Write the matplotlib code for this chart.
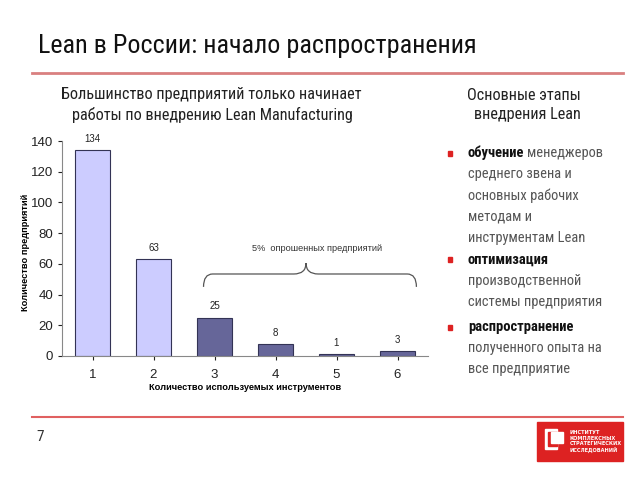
import matplotlib
matplotlib.use("Agg")
import matplotlib.pyplot as plt
from matplotlib import font_manager as fm
from matplotlib.patches import Rectangle, PathPatch
from matplotlib.path import Path

names = {f.name for f in fm.fontManager.ttflist}
NARROW = None
for cand in ["Liberation Sans Narrow", "Arial Narrow", "Roboto Condensed",
             "Fira Sans Condensed", "IBM Plex Sans Condensed", "PT Sans Narrow"]:
    if cand in names:
        NARROW = cand
        break
if NARROW is None:
    NARROW = "DejaVu Sans"
    STRETCH = "condensed"
else:
    STRETCH = "normal"
plt.rcParams['font.family'] = [NARROW, 'DejaVu Sans']
ARIAL = ["Liberation Sans", "DejaVu Sans"]

categories = ["1", "2", "3", "4", "5", "6"]
values = [134, 63, 25, 8, 1, 3]
light_idx = [0, 1]
yticks = [0, 20, 40, 60, 80, 100, 120, 140]

W, H = 640, 480
fig = plt.figure(figsize=(6.4, 4.8), dpi=100)
fig.canvas.draw()
renderer = fig.canvas.get_renderer()

def fx(px): return px / W
def fy(py): return 1 - py / H

def ntext(xp, yp, s, size, **kw):
    return fig.text(fx(xp), fy(yp), s, fontsize=size, fontstretch=STRETCH, **kw)

def fit(t, target):
    w = t.get_window_extent(renderer).width
    t.set_fontsize(t.get_fontsize() * target / w)
    return t.get_fontsize()

# title
t = ntext(38, 46, "Lean в России: начало распространения", 20, va="center", ha="left",
          color="#111111")
fit(t, 437)
fig.add_artist(plt.Line2D([fx(32), fx(623)], [fy(73), fy(73)], color="#d98080", lw=2))
fig.add_artist(plt.Line2D([fx(32), fx(623)], [fy(417), fy(417)], color="#e06060", lw=1.5))

t = ntext(211, 95, "Большинство предприятий только начинает", 12, ha="center", va="center",
          color="#222222")
sz = fit(t, 302)
ntext(212, 115, "работы по внедрению Lean Manufacturing", sz, ha="center", va="center",
      color="#222222")
ntext(524, 95, "Основные этапы", sz, ha="center", va="center", color="#222222")
ntext(527, 115, "внедрения Lean", sz, ha="center", va="center", color="#222222")

# axes
ax = fig.add_axes([fx(62), fy(356), fx(428) - fx(62), fy(141) - fy(356)])
x = list(range(len(categories)))
colors = ["#ccccff" if i in light_idx else "#666699" for i in x]
ax.bar(x, values, width=0.59, color=colors, edgecolor="#333355", linewidth=0.8)
for xi, v in zip(x, values):
    ax.text(xi, v + 4, str(v), ha="center", va="bottom", fontsize=7, color="#222222",
            family=ARIAL)
ax.set_xlim(-0.5, 5.5)
ax.set_ylim(0, 140)
ax.set_yticks(yticks)
ax.set_xticks(x)
ax.set_xticklabels(categories)
ax.tick_params(axis="both", labelsize=9.5, colors="#222222", length=3, width=0.8)
ax.tick_params(axis="x", pad=6)
for s in ["top", "right"]:
    ax.spines[s].set_visible(False)
for s in ["left", "bottom"]:
    ax.spines[s].set_color("#888888")
for lab in ax.get_xticklabels() + ax.get_yticklabels():
    lab.set_family(ARIAL)
ax.set_xlabel("Количество используемых инструментов", fontsize=6.7, fontweight="bold",
              family=ARIAL)
ax.set_ylabel("Количество предприятий", fontsize=6.7, fontweight="bold", family=ARIAL)
ax.xaxis.set_label_coords(0.5, -0.126)
ax.yaxis.set_label_coords(-0.088, 0.48)

# brace
x0, x1, xm = 1.82, 5.31, 3.5
yb, yh, yp = 45, 53.4, 60.5
verts = [(x0, yb), (x0, yh), (x0 + 0.15, yh), (x0 + 0.4, yh),
         (xm - 0.2, yh), (xm, yh), (xm, yp),
         (xm, yh), (xm + 0.2, yh),
         (x1 - 0.4, yh), (x1 - 0.15, yh), (x1, yh), (x1, yb)]
codes = [Path.MOVETO, Path.CURVE3, Path.CURVE3, Path.LINETO,
         Path.LINETO, Path.CURVE3, Path.CURVE3,
         Path.CURVE3, Path.CURVE3,
         Path.LINETO, Path.LINETO, Path.CURVE3, Path.CURVE3]
ax.add_patch(PathPatch(Path(verts, codes), fill=False, edgecolor="#555555", lw=0.9))
ax.text(3.68, 70, "5%  опрошенных предприятий", fontsize=6.6, ha="center", va="center",
        family=ARIAL, color="#333333")

# right bullets
probe = ntext(467, 303, "системы предприятия", 11, va="center", ha="left", color="#555555")
bsz = fit(probe, 134)
probe.remove()
bullets = [
    ("обучение", ["менеджеров", "среднего звена и", "основных рабочих", "методам и", "инструментам Lean"], 153),
    ("оптимизация", ["", "производственной", "системы предприятия"], 259.5),
    ("распространение", ["", "полученного опыта на", "все предприятие"], 327),
]
lh = 21.2
for bold, rest, y0 in bullets:
    fig.add_artist(Rectangle((fx(448), fy(y0 + 2.5)), 4 / W, 5 / H, color="#dd2222",
                             transform=fig.transFigure))
    t = ntext(468, y0, bold, bsz, fontweight="bold", va="center", ha="left", color="#111111")
    if rest[0]:
        bb = t.get_window_extent(renderer)
        fig.text(bb.x1 / W + 3 / W, fy(y0), rest[0], fontsize=bsz, fontstretch=STRETCH,
                 va="center", ha="left", color="#555555")
    for k, line in enumerate(rest[1:], start=1):
        ntext(468, y0 + k * lh, line, bsz, va="center", ha="left", color="#555555")

# page number
ntext(40, 437, "7", 11, va="center", ha="center", color="#333333")

# logo
fig.add_artist(Rectangle((fx(537), fy(461)), 86 / W, 39 / H, color="#dd2222",
                         transform=fig.transFigure))
fig.add_artist(Rectangle((fx(545), fy(449)), 12 / W, 20 / H, color="white",
                         transform=fig.transFigure))
fig.add_artist(Rectangle((fx(548), fy(446)), 9 / W, 14 / H, color="#dd2222",
                         transform=fig.transFigure))
fig.add_artist(Rectangle((fx(551), fy(443)), 12 / W, 11 / H, color="white",
                         transform=fig.transFigure))
fig.text(fx(570), fy(441.5), "ИНСТИТУТ\nКОМПЛЕКСНЫХ\nСТРАТЕГИЧЕСКИХ\nИССЛЕДОВАНИЙ",
         fontsize=3.6, fontweight="bold", color="white", va="center", ha="left",
         family="DejaVu Sans", linespacing=1.1)

fig.savefig("out.png", dpi=100)
